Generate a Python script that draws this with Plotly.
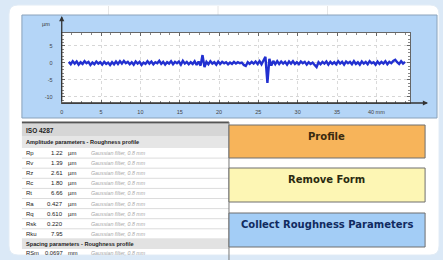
import plotly.graph_objects as go

# ---------------- data ----------------
profile_heights_um = [
    0.3, -0.4, 0.5, -0.2, 0.4, -0.5, 0.2, -0.3, 0.5, -0.1,
    0.3, -0.6, 0.1, -0.4, 0.4, -0.2, 0.2, -0.5, 0.3, -0.3,
    0.1, -0.6, 0.2, -0.4, 0.4, -0.3, 0.5, -0.2, 0.6, -0.1,
    0.3, -0.4, 0.2, -0.5, 0.4, -0.2, 0.3, -0.6, 0.1, -0.3,
    0.5, -0.2, 0.4, -0.4, 0.2, -0.1, 0.6, -0.3, 0.3, -0.5,
    0.2, -0.2, 0.5, -0.4, 0.3, -0.1, 0.4, -0.5, 0.6, -0.2,
    0.3, -0.4, 0.2, -0.3, 0.5, -0.6, 0.4, -0.8, 2.3, -1.2,
    0.3, -0.4, 0.5, -0.2, 0.2, -0.5, 0.4, -0.3, 0.3, -0.1,
    0.2, -0.4, 0.1, -0.3, 0.3, -0.2, 0.2, -0.1, 0.1, -0.6,
    -0.9, 0.2, -0.3, 0.3, -0.2, 0.4, -0.3, 0.5, -0.4, 0.9,
    1.8, -5.9, 1.2, -0.8, 0.6, -0.4, 0.5, -0.3, 0.4, -0.2,
    0.3, -0.5, 0.4, -0.2, 0.5, -0.3, 0.2, -0.4, 0.4, -0.1,
    0.3, -0.5, 0.2, -0.3, 0.1, -0.6, -1.2, 0.2, -0.4, 0.3,
    -0.2, 0.4, -0.5, 0.3, -0.3, 0.2, -0.4, 0.5, -0.2, 0.3,
    -0.5, 0.4, -0.1, 0.3, -0.4, 0.5, -0.3, 0.2, -0.5, 0.4,
    -0.2, 0.3, -0.4, 0.5, -0.1, 0.2, -0.5, 0.4, -0.3, 0.3,
    -0.2, 0.5, -0.4, 0.3, -0.1, 0.6, 0.9, 0.2, -0.3, 0.5,
    -0.2, 0.3,
]
profile_start_mm = 0.9
profile_step_mm = 0.25
profile_dist_mm = [round(profile_start_mm + profile_step_mm * i, 3)
                   for i in range(len(profile_heights_um))]

x_tick_vals = [0, 5, 10, 15, 20, 25, 30, 35, 40]
x_tick_text = ["0", "5", "10", "15", "20", "25", "30", "35", "40 mm"]
y_tick_vals = [-10, -5, 0, 5]
y_tick_text = ["-10", "-5", "0", "5"]

table_title = "ISO 4287"
amp_section = "Amplitude parameters - Roughness profile"
param_names = ["Rp", "Rv", "Rz", "Rc", "Rt", "Ra", "Rq", "Rsk", "Rku"]
param_values = ["1.22", "1.39", "2.61", "1.80", "6.66", "0.427", "0.610", "0.220", "7.95"]
param_units = ["µm", "µm", "µm", "µm", "µm", "µm", "µm", "", ""]
filter_note = "Gaussian filter, 0.8 mm"
spacing_section = "Spacing parameters - Roughness profile"
spacing_names = ["RSm"]
spacing_values = ["0.0697"]
spacing_units = ["mm"]

button_labels = ["Profile", "Remove Form", "Collect Roughness Parameters"]
button_fills = ["#f7b45a", "#fdf6b4", "#a3cdf6"]
button_text_colors = ["#3a2a10", "#2a2a10", "#102a60"]

# ---------------- geometry helpers ----------------
W, H = 443, 260
def X(px):
    return px / W
def Y(py):
    return 1 - py / H

shapes = []
annotations = []

def rect(x0, y0, x1, y1, fill, line="rgba(0,0,0,0)", lw=0):
    shapes.append(dict(type="rect", xref="paper", yref="paper", layer="below",
                       x0=X(x0), x1=X(x1), y0=Y(y1), y1=Y(y0),
                       fillcolor=fill, line=dict(color=line, width=lw)))

def hline(x0, x1, y, color, lw=1, dash="solid"):
    shapes.append(dict(type="line", xref="paper", yref="paper", layer="below",
                       x0=X(x0), x1=X(x1), y0=Y(y), y1=Y(y),
                       line=dict(color=color, width=lw, dash=dash)))

def vline(x, y0, y1, color, lw=1):
    shapes.append(dict(type="line", xref="paper", yref="paper", layer="below",
                       x0=X(x), x1=X(x), y0=Y(y0), y1=Y(y1),
                       line=dict(color=color, width=lw)))

def text(px, py, s, size=6, color="#222", bold=False, anchor="left",
         family="Liberation Sans", italic=False):
    if bold:
        s = "<b>" + s + "</b>"
    if italic:
        s = "<i>" + s + "</i>"
    annotations.append(dict(xref="paper", yref="paper", x=X(px), y=Y(py),
                            text=s, showarrow=False, xanchor=anchor,
                            yanchor="middle",
                            font=dict(size=size, color=color, family=family)))

# card (rounded white)
r = 9
cx0, cy0, cx1, cy1 = 7, 5, 439, 255
path = (f"M {X(cx0+r)} {Y(cy0)} L {X(cx1-r)} {Y(cy0)} "
        f"Q {X(cx1)} {Y(cy0)} {X(cx1)} {Y(cy0+r)} "
        f"L {X(cx1)} {Y(cy1-r)} Q {X(cx1)} {Y(cy1)} {X(cx1-r)} {Y(cy1)} "
        f"L {X(cx0+r)} {Y(cy1)} Q {X(cx0)} {Y(cy1)} {X(cx0)} {Y(cy1-r)} "
        f"L {X(cx0)} {Y(cy0+r)} Q {X(cx0)} {Y(cy0)} {X(cx0+r)} {Y(cy0)} Z")
shapes.append(dict(type="path", xref="paper", yref="paper", layer="below",
                   path=path, fillcolor="white", line=dict(color="#e2ecf6", width=1)))

# faint sheet grid lines at top of card
for gx in [107, 217, 327]:
    vline(gx, 6, 15, "#e6e6e6")

# chart frame
rect(20, 15, 437, 118, "#b4d5f7", "#8aa2bb", 1)
# plot area (white)
rect(60, 33, 410, 103, "white")

# ---------------- table ----------------
tx0, tx1 = 20, 228
row_h = 10.1
hline(tx0, tx1, 122.5, "#555", 2)
rect(tx0, 124, tx1, 136, "#d6d6d6")
text(22, 130.5, table_title, size=6.5, bold=True)
rect(tx0, 136, tx1, 148, "#e6e6e6")
text(22, 142.3, amp_section, size=5.6, bold=True)
y = 148
for name, val, unit in zip(param_names, param_values, param_units):
    yc = y + row_h / 2
    text(22, yc, name, size=6)
    text(63, yc, val, size=6, anchor="right")
    if unit:
        text(64, yc, unit, size=6)
    text(87, yc, filter_note, size=5.3, color="#a8a8a8", italic=True)
    y += row_h
    hline(tx0, tx1, y, "#dcdcdc", 1)
rect(tx0, y, tx1, y + row_h, "#e2e2e2")
text(22, y + row_h / 2, spacing_section, size=5.6, bold=True)
y += row_h
for name, val, unit in zip(spacing_names, spacing_values, spacing_units):
    yc = y + 4.5
    text(22, yc, name, size=5.8)
    text(63, yc, val, size=5.8, anchor="right")
    text(64, yc, unit, size=5.8)
    text(87, yc, filter_note, size=5.3, color="#a8a8a8", italic=True)
    y += row_h
vline(tx1, 122, 260, "#777", 1)

# ---------------- buttons ----------------
btn_rows = [(125, 158), (168, 202), (213, 247)]
for (by0, by1), lab, fill, tc in zip(btn_rows, button_labels, button_fills, button_text_colors):
    rect(228, by0, 425, by1, fill, "#6f6f6f", 1)
    text(326, by0 + 11, lab, size=10, color=tc, bold=True, anchor="center",
         family="DejaVu Sans")

# ---------------- axes decorations ----------------
annotations.append(dict(xref="paper", yref="paper", x=X(60), y=Y(16),
                        ax=0, ay=87, showarrow=True, arrowhead=2, arrowsize=0.8,
                        arrowwidth=1.3, arrowcolor="#333", text=""))
annotations.append(dict(xref="paper", yref="paper", x=X(428), y=Y(103),
                        ax=-368, ay=0, showarrow=True, arrowhead=2, arrowsize=0.8,
                        arrowwidth=1.3, arrowcolor="#333", text=""))
text(50, 24, "µm", size=5.5, color="#333", anchor="right")

# ---------------- figure ----------------
fig = go.Figure()
fig.add_trace(go.Scatter(x=profile_dist_mm, y=profile_heights_um, mode="lines",
                         line=dict(color="#2230d0", width=2.4),
                         showlegend=False, hoverinfo="skip"))

fig.update_layout(
    width=W, height=H, margin=dict(l=0, r=0, t=0, b=0),
    paper_bgcolor="#dbe9f7", plot_bgcolor="white",
    shapes=shapes, annotations=annotations,
    xaxis=dict(domain=[X(60), X(410)], range=[0, 44.3],
               tickvals=x_tick_vals, ticktext=x_tick_text,
               tickfont=dict(size=5.5, color="#444", family="Liberation Sans"),
               showgrid=True, gridcolor="#dadada", griddash="dot", gridwidth=1,
               zeroline=False, showline=True, linecolor="#666", mirror="ticks",
               ticks="inside", ticklen=3, tickcolor="#666",
               ticklabelstandoff=3,
               minor=dict(ticks="inside", ticklen=2, dtick=1.25, tickcolor="#888",
                          showgrid=False),
               fixedrange=True),
    yaxis=dict(domain=[Y(103), Y(33)], range=[-11.8, 8.8],
               tickvals=y_tick_vals, ticktext=y_tick_text,
               tickfont=dict(size=5.5, color="#444", family="Liberation Sans"),
               showgrid=True, gridcolor="#d6d6d6", griddash="dot", gridwidth=1,
               zeroline=False, showline=True, linecolor="#666", mirror="ticks",
               ticks="inside", ticklen=3, tickcolor="#666",
               ticklabelstandoff=7,
               minor=dict(ticks="inside", ticklen=2, dtick=1, tickcolor="#888",
                          showgrid=False),
               fixedrange=True),
)

fig.write_html("out.html", config={"displayModeBar": False},
               post_script="document.body.style.margin='0';document.body.style.overflow='hidden';")
